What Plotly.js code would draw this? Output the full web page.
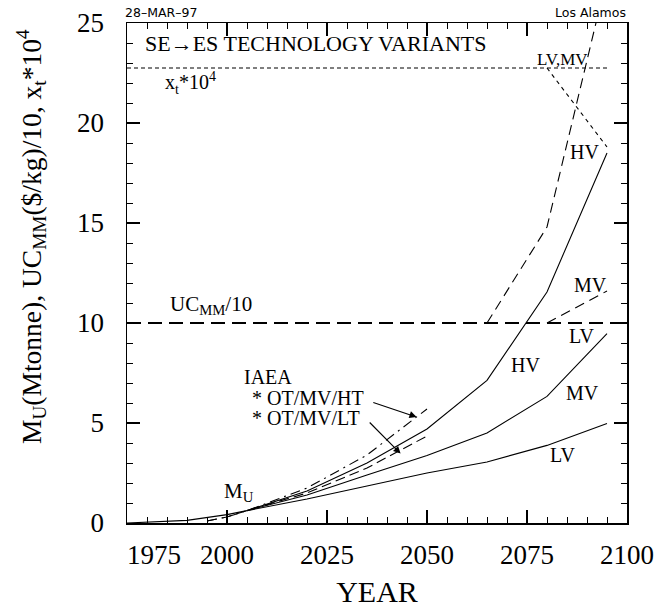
<!DOCTYPE html>
<html>
<head>
<meta charset="utf-8">
<script src="https://cdn.plot.ly/plotly-3.0.1.min.js"></script>
<style>html,body{margin:0;padding:0;background:#fff;}#chart{width:656px;height:609px;}</style>
</head>
<body>
<div id="chart"></div>
<script>
// ---- data ----
const histYears = [1975, 1990, 2000, 2005];
const histMU    = [0, 0.13, 0.42, 0.62];

const projYears = [2005, 2020, 2035, 2050, 2065, 2080, 2095];
const muHV = [0.62, 1.6, 3.0, 4.7, 7.13, 11.55, 18.5];
const muMV = [0.62, 1.4, 2.4, 3.38, 4.5, 6.33, 9.47];
const muLV = [0.62, 1.2, 1.85, 2.5, 3.05, 3.88, 4.97];

const iaeaYears = [1995, 2000, 2005, 2020, 2035, 2050];
const iaeaHT = [0.1, 0.3, 0.62, 1.75, 3.4, 5.7];
const iaeaLT = [0.1, 0.3, 0.62, 1.5, 2.75, 4.35];

const ucYears = [1975, 2100];
const ucBase  = [10, 10];
const ucHVYears = [2065, 2080, 2095];
const ucHV      = [10, 14.8, 27.3];
const ucMVYears = [2080, 2095];
const ucMV      = [10, 11.6];

const xtYears = [1975, 2095];
const xtBase  = [22.75, 22.75];
const xtHVYears = [2080, 2095];
const xtHV      = [22.75, 18.8];

const xTickVals = [1975, 2000, 2025, 2050, 2075, 2100];
const xTickText = ['1975', '2000', '2025', '2050', '2075', '2100'];
const yTickVals = [0, 5, 10, 15, 20, 25];
const yTickText = ['0', '5', '10', '15', '20', '25'];

// ---- traces ----
const K = '#000';
function line(x, y, dash, width) {
  return {x: x, y: y, type: 'scatter', mode: 'lines', hoverinfo: 'skip',
          line: {color: K, width: width, dash: dash}, showlegend: false};
}
const traces = [
  line(histYears, histMU, 'solid', 1.1),
  line(projYears, muHV, 'solid', 1.1),
  line(projYears, muMV, 'solid', 1.1),
  line(projYears, muLV, 'solid', 1.1),
  line(iaeaYears, iaeaHT, '10px,5px,2px,5px', 1.1),
  line(iaeaYears, iaeaLT, '10px,5px', 1.1),
  line(ucYears, ucBase, '14px,7px', 1.8),
  line(ucHVYears, ucHV, '10px,6px', 1.1),
  line(ucMVYears, ucMV, '10px,6px', 1.1),
  line(xtYears, xtBase, '4px,3px', 1.2),
  line(xtHVYears, xtHV, '4px,4px', 1.1)
];

const serif = 'Liberation Serif';
const sans = 'DejaVu Sans';
function lab(text, x, y, size, xanchor) {
  return {text: text, x: x, y: y, xref: 'x', yref: 'y', showarrow: false,
          xanchor: xanchor || 'center', yanchor: 'middle',
          font: {family: serif, size: size, color: K}};
}
const annotations = [
  lab('SE\u2192ES TECHNOLOGY VARIANTS', 1979, 23.98, 22, 'left'),
  lab('x<sub>t</sub>*10<sup>4</sup>', 1984, 22.0, 20, 'left'),
  lab('LV,MV', 2083.75, 23.2, 17),
  lab('HV', 2089.25, 18.53, 20),
  lab('MV', 2090.75, 11.9, 20),
  lab('UC<sub>MM</sub>/10', 1996, 10.9, 21),
  lab('LV', 2088.5, 9.33, 20),
  lab('HV', 2074.5, 7.9, 20),
  lab('MV', 2088.75, 6.49, 20),
  lab('LV', 2083.75, 3.39, 20),
  lab('IAEA', 2010.25, 7.3, 20),
  lab('* OT/MV/HT', 2005.75, 6.27, 20, 'left'),
  lab('* OT/MV/LT', 2005.75, 5.27, 20, 'left'),
  lab('M<sub>U</sub>', 2003, 1.54, 21),
  // arrows
  {x: 2047.4, y: 5.3, ax: 2036.2, ay: 6.05, xref: 'x', yref: 'y', axref: 'x', ayref: 'y',
   text: '', showarrow: true, arrowhead: 2, arrowsize: 1.3, arrowwidth: 1.1, arrowcolor: K},
  {x: 2043.4, y: 3.47, ax: 2035.3, ay: 5.1, xref: 'x', yref: 'y', axref: 'x', ayref: 'y',
   text: '', showarrow: true, arrowhead: 2, arrowsize: 1.3, arrowwidth: 1.1, arrowcolor: K},
  // header texts
  {text: '28\u2013MAR\u201397', xref: 'paper', yref: 'paper', x: -0.008, y: 1.021,
   xanchor: 'left', yanchor: 'middle', showarrow: false, font: {family: sans, size: 12.5, color: K}},
  {text: 'Los Alamos', xref: 'paper', yref: 'paper', x: 1.002, y: 1.021,
   xanchor: 'right', yanchor: 'middle', showarrow: false, font: {family: sans, size: 12.5, color: K}},
  // y axis title
  {text: 'M<sub>U</sub>(Mtonne), UC<sub>MM</sub>($/kg)/10, x<sub>t</sub>*10<sup>4</sup>',
   xref: 'paper', yref: 'paper', x: -0.192, y: 0.572, textangle: -90,
   xanchor: 'center', yanchor: 'middle', showarrow: false,
   font: {family: serif, size: 27.5, color: K}}
];

const pad = '\u00a0'.repeat(8);
const layout = {
  width: 656, height: 609,
  margin: {l: 127, r: 29, t: 23, b: 86},
  paper_bgcolor: '#fff', plot_bgcolor: '#fff',
  font: {family: serif, color: K},
  showlegend: false,
  xaxis: {
    range: [1975, 2100], showgrid: false, zeroline: false,
    showline: true, linecolor: K, linewidth: 1.5, mirror: 'allticks',
    ticks: 'inside', ticklen: 13, tickwidth: 1.2, tickcolor: K,
    tickvals: xTickVals, ticktext: xTickText.map((t, i) => i === 0 ? pad + t : t),
    minor: {dtick: 5, tick0: 1975, ticks: 'inside', ticklen: 6, tickwidth: 1, tickcolor: K},
    tickfont: {family: serif, size: 27, color: K},
    ticklabelstandoff: 7,
    title: {text: 'YEAR', font: {family: serif, size: 30, color: K}, standoff: 12}
  },
  yaxis: {
    range: [0, 25], showgrid: false, zeroline: false,
    showline: true, linecolor: K, linewidth: 1.5, mirror: 'allticks',
    ticks: 'inside', ticklen: 13, tickwidth: 1.2, tickcolor: K,
    tickvals: yTickVals, ticktext: yTickText,
    minor: {dtick: 1, tick0: 0, ticks: 'inside', ticklen: 6, tickwidth: 1, tickcolor: K},
    tickfont: {family: serif, size: 27, color: K},
    ticklabelstandoff: 16
  },
  annotations: annotations
};

Plotly.newPlot('chart', traces, layout, {displayModeBar: false, staticPlot: true});
</script>
</body>
</html>
